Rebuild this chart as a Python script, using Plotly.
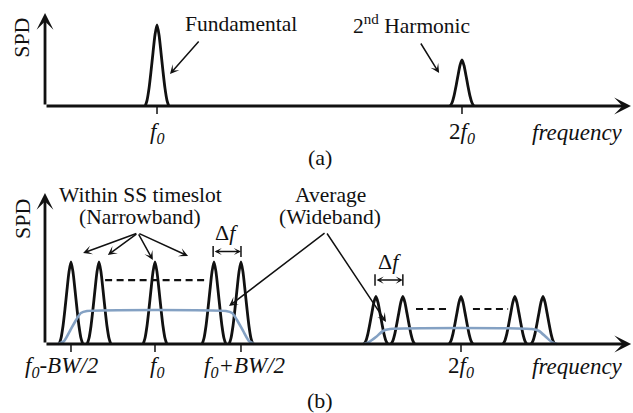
import plotly.graph_objects as go

# ---------------- data ----------------
# Panel (a): single tones
A_PEAK_FREQ = [1.0, 2.0]            # f0, 2f0
A_PEAK_SPD = [1.0, 0.57]
A_TICKS = [1.0, 2.0]
A_TICK_TEXT = ["<i>f<sub>0</sub></i>", "2<i>f<sub>0</sub></i>"]

# Panel (b): SS-hopped tones (narrowband) and their average (wideband)
B_PEAK_FREQ_1 = [0.7255, 0.817, 1.0, 1.1928, 1.281]
B_PEAK_FREQ_2 = [1.722, 1.810, 2.0, 2.176, 2.268]
B_PEAK_SPD_1 = 1.0
B_PEAK_SPD_2 = 0.58
B_AVG_FREQ_1 = [0.683, 0.703, 0.722, 0.742, 0.758, 0.778, 1.232, 1.252, 1.268, 1.288, 1.307, 1.324]
B_AVG_SPD_1 = [0.0, 0.037, 0.159, 0.293, 0.378, 0.402, 0.402, 0.378, 0.293, 0.159, 0.037, 0.0]
B_AVG_FREQ_2 = [1.680, 1.699, 1.722, 1.745, 1.768, 2.232, 2.255, 2.278, 2.297, 2.314]
B_AVG_SPD_2 = [0.0, 0.024, 0.085, 0.159, 0.183, 0.183, 0.159, 0.085, 0.024, 0.0]
B_TICKS = [0.7255, 1.0, 1.281, 2.0]
B_TICK_TEXT = ["<i>f<sub>0</sub>-BW/2</i>", "<i>f<sub>0</sub></i>", "<i>f<sub>0</sub>+BW/2</i>", "2<i>f<sub>0</sub></i>"]

# Shape of one spectral line (one side; offset in frequency units, relative SPD)
PEAK_DX = [0.0, 0.0065, 0.0131, 0.0196, 0.0261, 0.0327, 0.0385]
PEAK_REL = [1.0, 0.88, 0.66, 0.43, 0.22, 0.07, 0.0]

FONT = "Liberation Serif, Times New Roman, serif"
BLACK = "#111111"
BLUE = "#84a1c3"


def peak_xy(centers, heights):
    xs, ys = [], []
    for c, h in zip(centers, heights):
        for dx, r in zip(PEAK_DX[::-1], PEAK_REL[::-1]):
            xs.append(c - dx); ys.append(h * r)
        for dx, r in zip(PEAK_DX[1:], PEAK_REL[1:]):
            xs.append(c + dx); ys.append(h * r)
        xs.append(None); ys.append(None)
    return xs, ys


def tick_xy(ticks, length):
    xs, ys = [], []
    for t in ticks:
        xs += [t, t, None]; ys += [0, -length, None]
    return xs, ys


fig = go.Figure()
PEAK_LINE = dict(color=BLACK, width=2.8, shape="spline", smoothing=0.7)

# ---- panel (a)
px_, py_ = peak_xy(A_PEAK_FREQ, A_PEAK_SPD)
fig.add_trace(go.Scatter(x=px_, y=py_, mode="lines", line=PEAK_LINE,
                         xaxis="x", yaxis="y", hoverinfo="skip"))
tx, ty = tick_xy(A_TICKS, 0.099)
fig.add_trace(go.Scatter(x=tx, y=ty, mode="lines", line=dict(color=BLACK, width=1.5),
                         xaxis="x", yaxis="y", hoverinfo="skip"))

# ---- panel (b)
px_, py_ = peak_xy(B_PEAK_FREQ_1 + B_PEAK_FREQ_2,
                   [B_PEAK_SPD_1] * len(B_PEAK_FREQ_1) + [B_PEAK_SPD_2] * len(B_PEAK_FREQ_2))
fig.add_trace(go.Scatter(x=px_, y=py_, mode="lines", line=PEAK_LINE,
                         xaxis="x2", yaxis="y2", hoverinfo="skip"))
tx, ty = tick_xy(B_TICKS, 0.098)
fig.add_trace(go.Scatter(x=tx, y=ty, mode="lines", line=dict(color=BLACK, width=1.5),
                         xaxis="x2", yaxis="y2", hoverinfo="skip"))
for fx, fy in [(B_AVG_FREQ_1, B_AVG_SPD_1), (B_AVG_FREQ_2, B_AVG_SPD_2)]:
    fig.add_trace(go.Scatter(x=fx, y=fy, mode="lines", line=dict(color=BLUE, width=2.6, shape="spline", smoothing=0.6),
                             xaxis="x2", yaxis="y2", hoverinfo="skip"))
# dashed "..." lines between tones
for xs, y in [([0.837, 1.173], 0.780), ([1.853, 1.964], 0.427), ([2.039, 2.154], 0.427)]:
    fig.add_trace(go.Scatter(x=xs, y=[y, y], mode="lines", line=dict(color=BLACK, width=2.2, dash="7px,4.5px"),
                             xaxis="x2", yaxis="y2", hoverinfo="skip"))
# delta-f end bars
for xb, y0, y1 in [(1.190, 1.061, 1.195), (1.281, 1.061, 1.195), (1.719, 0.712, 0.850), (1.810, 0.712, 0.850)]:
    fig.add_trace(go.Scatter(x=[xb, xb], y=[y0, y1], mode="lines", line=dict(color=BLACK, width=1.5),
                             xaxis="x2", yaxis="y2", hoverinfo="skip"))

ann = []


def text(x, y, s, ref, size=21.5, **kw):
    d = dict(x=x, y=y, text=s, showarrow=False, xref="x" + ref, yref="y" + ref,
             font=dict(family=FONT, size=size, color=BLACK), xanchor="center", yanchor="middle")
    d.update(kw)
    ann.append(d)


def arrow(x, y, ax, ay, ref, width=1.5, size=1.0, head=3, **kw):
    d = dict(x=x, y=y, ax=ax, ay=ay, xref="x" + ref, yref="y" + ref, axref="x" + ref, ayref="y" + ref,
             showarrow=True, arrowhead=head, arrowsize=size, arrowwidth=width, arrowcolor=BLACK, text="")
    d.update(kw)
    ann.append(d)


# axes arrows
arrow(2.554, 0, 0.6328, 0, "", width=2.8, size=1.0)
arrow(0.6328, 1.148, 0.6328, 0, "", width=2.8, size=1.0)
arrow(2.556, 0, 0.6405, 0, "2", width=2.8, size=1.0)
arrow(0.6405, 1.841, 0.6405, 0, "2", width=2.8, size=1.0)

# panel (a) texts
text(0.557, 0.840, "SPD", "", size=22, textangle=-90)
for t, s in zip(A_TICKS, A_TICK_TEXT):
    text(t, -0.333, s, "", size=23)
text(2.380, -0.333, "<i>frequency</i>", "", size=23)
text(1.275, 1.012, "Fundamental", "")
arrow(1.0426, 0.395, 1.141, 0.815, "")
text(1.833, 1.012, "2<sup>nd</sup> Harmonic", "")
arrow(1.925, 0.407, 1.862, 0.790, "")
text(1.534, -0.630, "(a)", "", size=22)

# panel (b) texts
text(0.565, 1.524, "SPD", "2", size=22, textangle=-90)
for x, s in zip([0.693, 1.005, 1.291, 2.0], B_TICK_TEXT):
    text(x, -0.280, s, "2", size=23)
text(2.380, -0.280, "<i>frequency</i>", "2", size=23)
text(0.954, 1.817, "Within SS timeslot", "2")
text(0.951, 1.549, "(Narrowband)", "2")
for hx, hy in [(0.765, 1.110), (0.846, 1.085), (0.993, 1.024), (1.108, 1.073)]:
    arrow(hx, hy, 0.944, 1.354, "2")
text(1.572, 1.817, "Average", "2")
text(1.572, 1.549, "(Wideband)", "2")
arrow(1.242, 0.463, 1.559, 1.366, "2")
arrow(1.755, 0.268, 1.559, 1.366, "2")
text(1.235, 1.354, "Δ<i>f</i>", "2", size=22)
arrow(1.281, 1.128, 1.190, 1.128, "2", width=1.5, size=0.8, arrowside="end+start", startarrowhead=3, startarrowsize=0.8)
text(1.765, 1.012, "Δ<i>f</i>", "2", size=22)
arrow(1.810, 0.780, 1.719, 0.780, "2", width=1.5, size=0.8, arrowside="end+start", startarrowhead=3, startarrowsize=0.8)
text(1.539, -0.683, "(b)", "2", size=22)

fig.update_layout(
    width=633, height=413, margin=dict(l=0, r=0, t=0, b=0),
    paper_bgcolor="white", plot_bgcolor="white", showlegend=False,
    xaxis=dict(domain=[0, 1], range=[0.4852, 2.5607], visible=False, anchor="y"),
    yaxis=dict(domain=[0.5884, 1], range=[-0.790, 1.3086], visible=False, anchor="x"),
    xaxis2=dict(domain=[0, 1], range=[0.4935, 2.5621], visible=False, anchor="y2"),
    yaxis2=dict(domain=[0, 0.5884], range=[-0.841, 2.122], visible=False, anchor="x2"),
    annotations=ann,
)

fig.write_html("out.html")
